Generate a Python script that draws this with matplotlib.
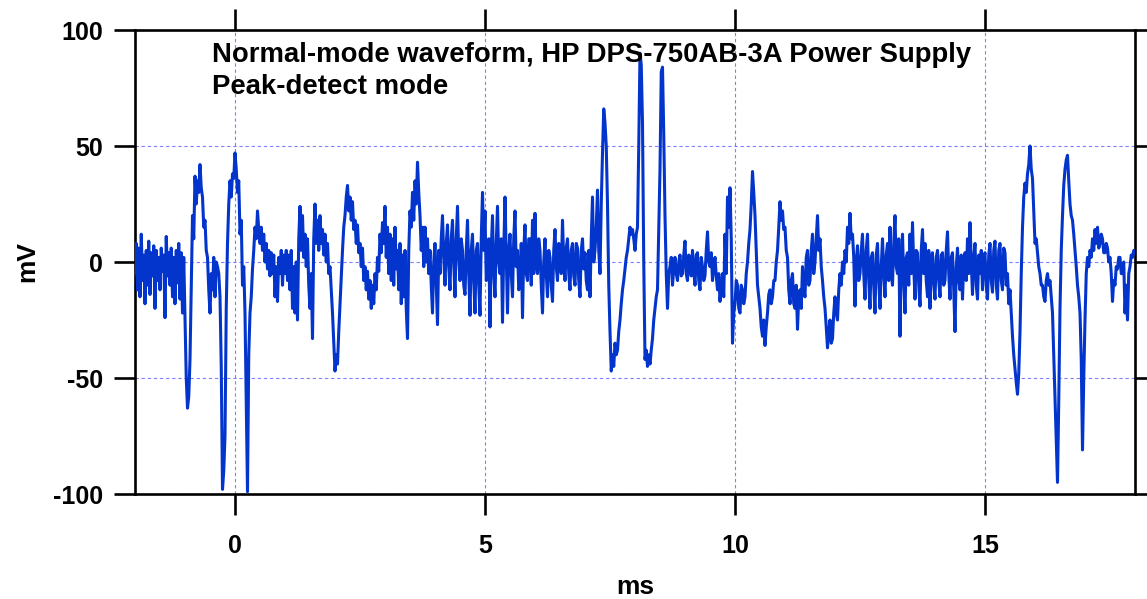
import numpy as np
import matplotlib
matplotlib.use("Agg")
import matplotlib.pyplot as plt

# ---- data (mV), peak-detect trace sampled every 0.025 ms from -2 ms to 18 ms ----
t_start = -2.0
t_step = 0.025
mv_values = [
    # -2.000 .. -1.025
    -5, 8, -12, 6, -15, 12, -8, 3, -18, 5, -10, 9, -14, 4, -6, 7, -20, 5, -8, 2,
    -12, 6, -4, 3, -24, 11, -6, 4, -10, 6, -15, 2, -18, 5, -9, 8, -16, 4, -22, 2,
    # -1.000 .. -0.025
    -25, -50, -63, -58, -42, -10, 20, 10, 37, 25, 35, 30, 42, 32, 28, 15, 18, 5, 2, -12,
    -22, -5, -12, 2, -15, 0, -2, -5, -15, -45, -98, -90, -75, -20, 8, 25, 35, 28, 38, 36,
    # 0.000 .. 0.975
    47, 40, 30, 35, 12, 18, -10, -2, -22, -60, -99, -40, -22, -15, -3, 5, 15, 10, 22, 14,
    8, 15, 5, 12, 0, 8, -3, 5, -6, 4, -5, 3, -15, -2, -17, 2, -5, 5, -10, 3,
    # 1.000 .. 1.975
    -5, 5, -8, 3, -12, 5, -20, -2, -22, 0, -25, 10, 24, 5, 20, 2, 12, -2, 10, -10,
    -20, -5, -33, 10, 25, 8, 18, 5, 20, 8, 14, 3, 12, 0, 8, -5, -2, -12, -22, -35,
    # 2.000 .. 2.975
    -47, -40, -44, -30, -18, -5, 5, 15, 20, 28, 33, 22, 28, 18, 26, 14, 18, 8, 16, 4,
    8, -2, 6, -8, -2, -12, -4, -16, -8, -20, -10, -18, -5, -12, 2, -4, 12, 4, 17, 8,
    # 3.000 .. 3.975
    24, 2, 15, -5, 12, -8, 10, -10, 15, -3, 5, -12, 8, -18, 3, -15, 5, -20, -33, 5,
    22, 15, 30, 18, 35, 25, 43, 30, 20, 5, 15, -2, 15, 0, 10, -5, 5, -10, -22, 0,
    # 4.000 .. 4.975
    8, -10, -27, 5, -5, 10, 20, 2, -10, 8, 16, -2, -12, 10, 18, 0, -15, 10, 24, 2,
    -8, 10, 5, -10, -14, 5, 18, -5, -23, 5, 12, -8, -22, 5, 8, -10, -23, 10, 30, 5,
    # 5.000 .. 5.975
    22, -8, -5, 10, -28, 5, 20, -5, -15, 8, 24, 0, -5, 10, -26, 5, 28, 2, -22, 5,
    12, -5, -15, 10, 22, -2, 5, -12, -10, 8, -24, 5, 16, -5, -8, 10, 10, -10, 18, -5,
    # 6.000 .. 6.975
    21, 0, -5, 10, 5, -10, -22, 0, 10, -5, -15, 5, 2, -10, -17, 5, 14, -2, -8, 8,
    5, -5, 18, 0, -8, 6, 10, -5, -12, 5, 8, -6, -10, 8, 6, -8, -15, 5, 10, -3,
    # 7.000 .. 7.975
    4, -8, -12, 5, -15, 10, 28, 0, 5, 15, 31, 5, -5, 25, 47, 66, 60, 50, 25, -10,
    -30, -47, -40, -45, -35, -40, -38, -30, -25, -18, -12, -8, -3, 2, 5, 10, 15, 12, 14, 10,
    # 8.000 .. 8.975
    5, 12, 15, 50, 90, 85, 60, 0, -42, -38, -45, -40, -44, -38, -33, -25, -20, -15, -12, 15,
    40, 82, 84, 55, 20, -5, -20, -5, -2, 2, -10, -3, 2, -5, -8, 0, 3, -6, -5, 3,
    # 9.000 .. 9.975
    9, -5, -8, 3, 2, -6, 5, -4, -10, 3, 4, -8, -12, 2, -2, -8, -6, 5, 13, 0,
    -2, 4, -8, -2, 2, -6, -12, -5, -17, -10, -5, -15, 12, -5, 28, 15, 32, 10, -35, -22,
    # 10.000 .. 10.975
    -18, -8, -10, -20, -22, -10, -12, -18, -15, -5, 0, 8, 14, 25, 39, 30, 20, 5, -10, -15,
    -20, -28, -32, -25, -36, -28, -22, -14, -12, -18, -15, -8, -8, 0, 5, 15, 26, 18, 22, 14,
    # 11.000 .. 11.975
    15, 5, 2, -12, -18, -8, -5, -18, -20, -10, -29, -15, -12, -20, -2, -12, -15, 2, 5, -10,
    -8, 5, 12, -5, 0, 10, 20, 5, 10, -2, -8, -15, -20, -28, -37, -30, -25, -35, -33, -22,
    # 12.000 .. 12.975
    -15, -22, -25, -12, -5, -10, 0, -5, 5, 0, 15, 8, 21, 10, 12, 2, -19, 0, 7, -8,
    -5, 5, 12, -5, -16, 5, 12, -8, -20, 2, 4, -10, -22, 3, 8, -8, -20, -2, 10, -5,
    # 13.000 .. 13.975
    -15, 3, 8, -8, 15, -5, -10, 8, 20, -2, -5, 10, -32, 0, 12, -8, -22, 2, 4, -10,
    12, -5, 17, -2, -16, 5, 4, -10, -19, 5, 14, -5, 8, -8, -15, 5, -20, 2, 4, -10,
    # 14.000 .. 14.975
    -16, 2, 5, -8, -15, 3, 4, -10, -8, 5, 13, -5, -16, 2, 4, -12, -30, -2, 6, -8,
    -12, 3, -16, 0, 4, -8, 10, -5, 17, 0, -14, 2, 8, -10, -16, 3, -5, 5, -12, 2,
    # 15.000 .. 15.975
    4, -10, -16, 3, 8, -8, -13, 5, 9, -10, -16, 5, 8, -8, -12, 6, 4, -10, -5, -18,
    -12, -22, -32, -40, -46, -52, -57, -48, -30, -5, 15, 28, 34, 30, 38, 42, 50, 40, 36, 22,
    # 16.000 .. 16.975
    8, 10, 4, -2, -5, -10, -10, -15, -17, -8, -5, -10, -8, -15, -22, -40, -58, -75, -95, -60,
    -20, 5, 20, 33, 40, 44, 46, 35, 25, 20, 18, 12, 5, -2, -10, -15, -22, -42, -81, -50,
    # 17.000 .. 17.975
    -25, -5, 2, -2, 5, 2, 10, 5, 14, 8, 15, 6, 8, 12, 10, 4, 4, 8, 6, 0,
    2, -5, -17, -8, -10, -2, -3, 2, 2, -5, -5, 0, -22, -10, -25, -5, -2, 3, 2, 5,
    # 18.000
    4,
]

x_ticks = [0, 5, 10, 15]
y_ticks = [-100, -50, 0, 50, 100]
title_lines = ["Normal-mode waveform, HP DPS-750AB-3A Power Supply", "Peak-detect mode"]
x_label = "ms"
y_label = "mV"

time_ms = t_start + t_step * np.arange(len(mv_values))

plt.rcParams['font.family'] = ['Liberation Sans', 'DejaVu Sans']
plt.rcParams['font.weight'] = 'bold'
plt.rcParams['axes.unicode_minus'] = False

fig = plt.figure(figsize=(11.47, 5.99), dpi=100)
W, H = 1147, 599
left, right, top, bottom = 135, 1135, 30, 494
ax = fig.add_axes([left / W, 1 - bottom / H, (right - left) / W, (bottom - top) / H])

ax.plot(time_ms, mv_values, color='#0335cc', lw=2.2, solid_joinstyle='round', zorder=3)

ax.set_xlim(-2, 18)
ax.set_ylim(-100, 100)
ax.set_xticks(x_ticks)
ax.set_yticks(y_ticks)
ax.grid(True, color='#7f7fff', lw=0.8, ls=(0, (3, 2.5)))
ax.set_axisbelow(True)

for s in ax.spines.values():
    s.set_linewidth(1.9)
    s.set_color('black')

ax.tick_params(axis='both', which='major', direction='out', length=15, width=1.9,
               labelsize=18, colors='black')
ax.tick_params(axis='x', top=True, labeltop=False, pad=14)
ax.tick_params(axis='y', right=True, labelright=False, pad=8)
for lab in ax.get_xticklabels() + ax.get_yticklabels():
    lab.set_fontweight('bold')

ax.set_xlabel(x_label, fontsize=19, fontweight='bold', labelpad=12)
ax.set_ylabel(y_label, fontsize=19, fontweight='bold', labelpad=10)

ax.text(0.077, 0.931, title_lines[0], transform=ax.transAxes, fontsize=19.8,
        fontweight='bold', va='baseline', ha='left')
ax.text(0.077, 0.862, title_lines[1], transform=ax.transAxes, fontsize=19.8,
        fontweight='bold', va='baseline', ha='left')

fig.savefig('out.png', dpi=100)
